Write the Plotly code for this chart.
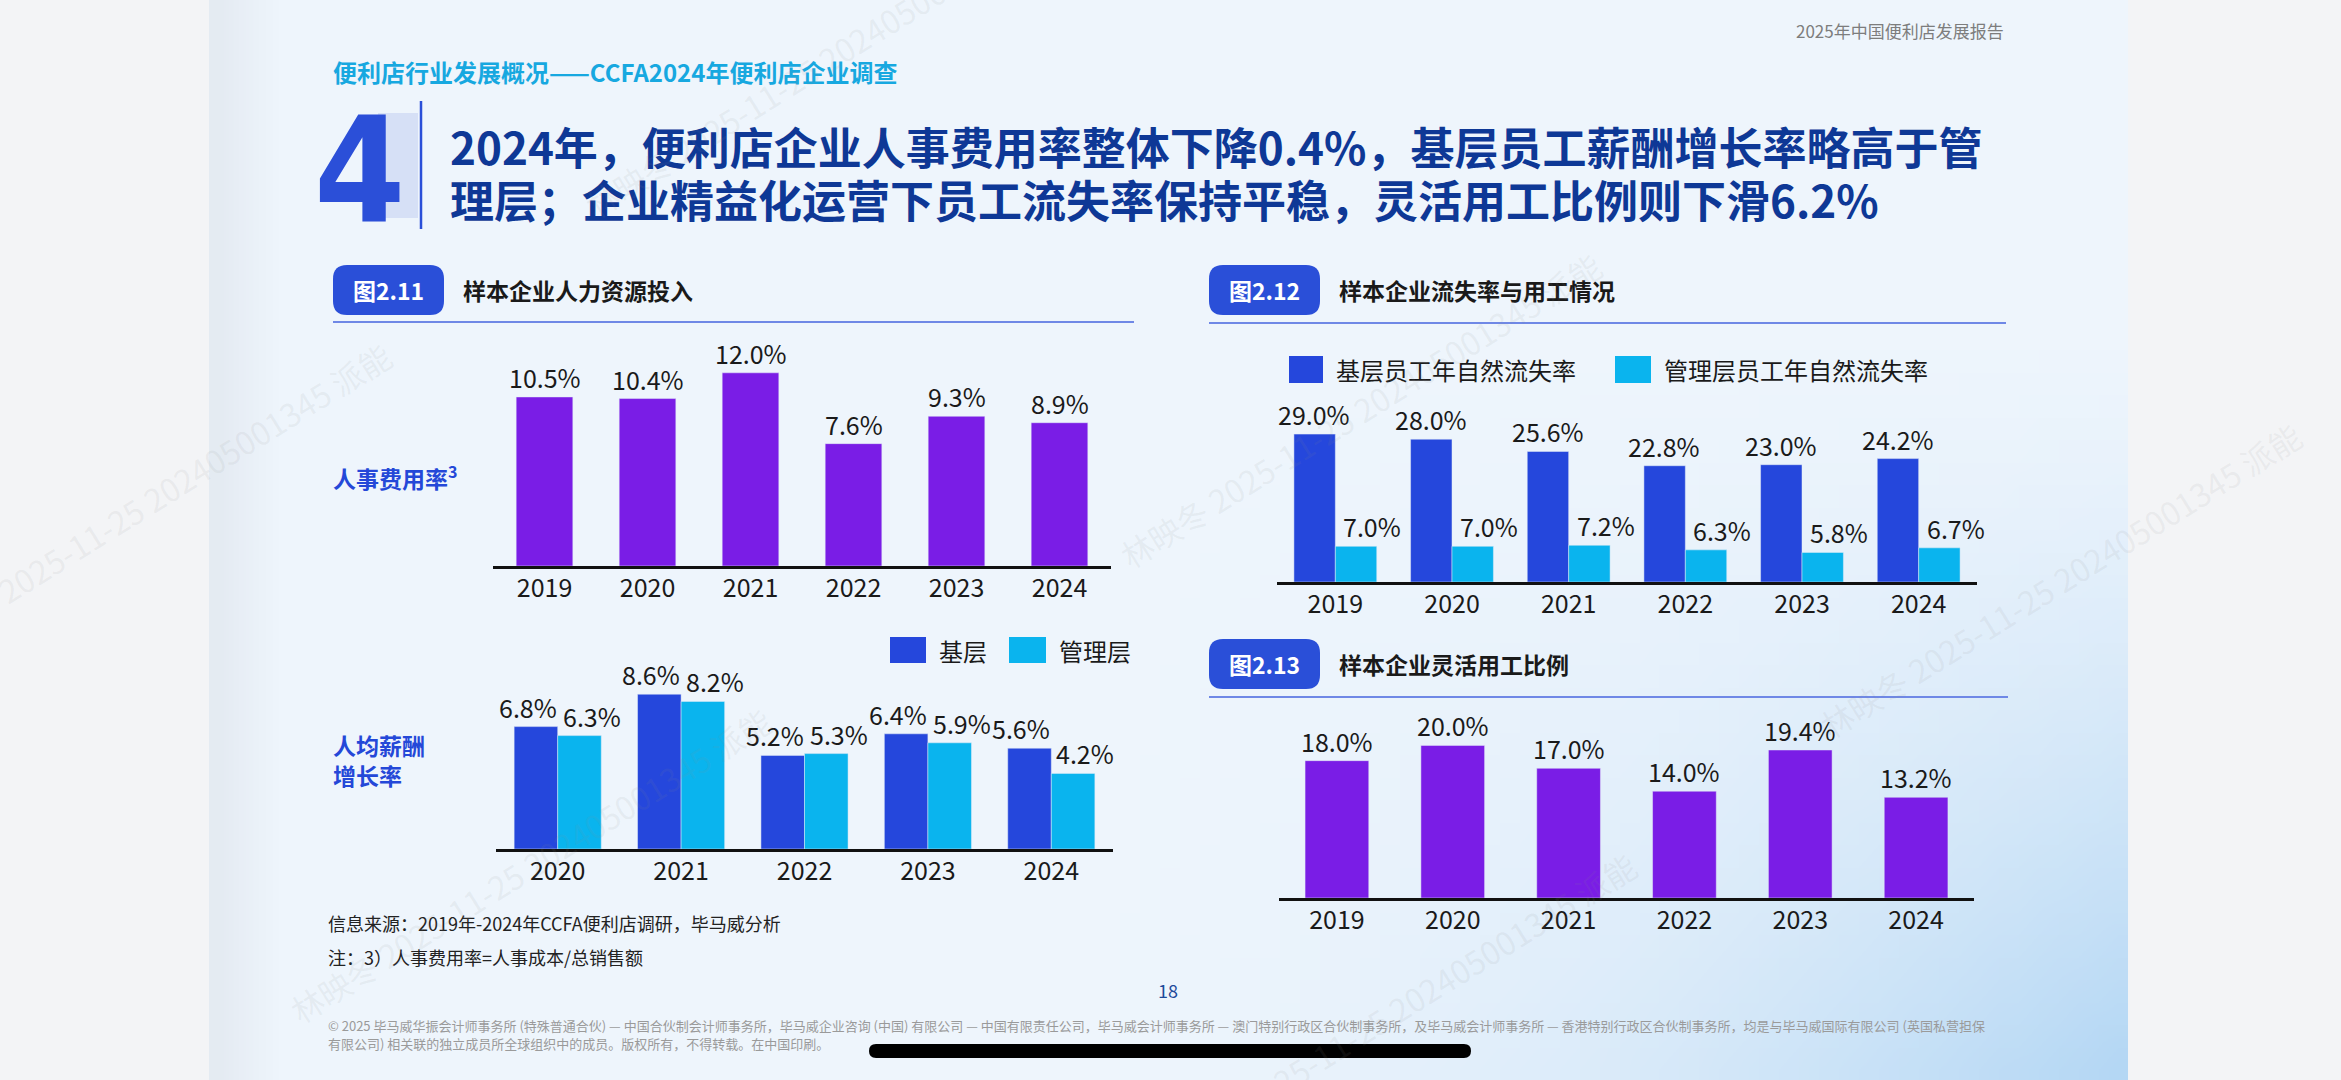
import zlib, struct, base64
import plotly.graph_objects as go

# ---------------- data ----------------
years6 = ["2019", "2020", "2021", "2022", "2023", "2024"]
years5 = ["2020", "2021", "2022", "2023", "2024"]
cost_rate = [10.5, 10.4, 12.0, 7.6, 9.3, 8.9]            # 人事费用率
salary_base = [6.8, 8.6, 5.2, 6.4, 5.6]                  # 基层 人均薪酬增长率
salary_mgmt = [6.3, 8.2, 5.3, 5.9, 4.2]                  # 管理层
turnover_base = [29.0, 28.0, 25.6, 22.8, 23.0, 24.2]     # 基层员工年自然流失率
turnover_mgmt = [7.0, 7.0, 7.2, 6.3, 5.8, 6.7]           # 管理层员工年自然流失率
flex_ratio = [18.0, 20.0, 17.0, 14.0, 19.4, 13.2]        # 灵活用工比例

# ---------------- style ----------------
W, H = 2341, 1080
CJK = "Noto Sans CJK SC"
PURPLE = "#7a1de6"
DARK = "#2547dc"
CYAN = "#0ab4ee"
NAVY = "#0e3896"
PILL = "#2a4fd8"
TXT = "#1a1a1a"


def X(p):
    return p / W


def Y(p):
    return 1 - p / H


def make_png(w, h, func):
    rows = []
    for j in range(h):
        row = bytearray([0])
        for i in range(w):
            row.extend(func(i / (w - 1), j / (h - 1)))
        rows.append(bytes(row))
    raw = b"".join(rows)

    def chunk(t, d):
        c = struct.pack(">I", len(d)) + t + d
        return c + struct.pack(">I", zlib.crc32(t + d) & 0xFFFFFFFF)

    png = (b"\x89PNG\r\n\x1a\n" + chunk(b"IHDR", struct.pack(">IIBBBBB", w, h, 8, 2, 0, 0, 0))
           + chunk(b"IDAT", zlib.compress(raw)) + chunk(b"IEND", b""))
    return "data:image/png;base64," + base64.b64encode(png).decode()


def clamp(v):
    return max(0.0, min(1.0, v))


def grad(u, v):
    base = (238, 245, 252)
    br = (180, 215, 244)
    sh = (226, 232, 240)
    w1 = clamp((u - 0.45) / 0.55) ** 1.6 * clamp((v - 0.3) / 0.7) ** 1.4
    w2 = clamp((0.03 - u) / 0.03) * 0.8
    c = [base[k] * (1 - w1) + br[k] * w1 for k in range(3)]
    c = [c[k] * (1 - w2) + sh[k] * w2 for k in range(3)]
    return [int(round(x)) for x in c]


bg_img = make_png(96, 48, grad)

fig = go.Figure()

# ---- chart A: 人事费用率 ----
fig.add_trace(go.Bar(x=years6, y=cost_rate, marker_color=PURPLE, width=0.55,
                     xaxis="x", yaxis="y", showlegend=False, hoverinfo="skip"))
# ---- chart B: 人均薪酬增长率 ----
fig.add_trace(go.Bar(x=years5, y=salary_base, name="基层", marker_color=DARK, width=0.353, offset=-0.353,
                     xaxis="x2", yaxis="y2", showlegend=False, hoverinfo="skip"))
fig.add_trace(go.Bar(x=years5, y=salary_mgmt, name="管理层", marker_color=CYAN, width=0.353, offset=0,
                     xaxis="x2", yaxis="y2", showlegend=False, hoverinfo="skip"))
# ---- chart C: 流失率 ----
fig.add_trace(go.Bar(x=years6, y=turnover_base, name="基层员工年自然流失率", marker_color=DARK, width=0.355,
                     offset=-0.355, xaxis="x3", yaxis="y3", showlegend=False, hoverinfo="skip"))
fig.add_trace(go.Bar(x=years6, y=turnover_mgmt, name="管理层员工年自然流失率", marker_color=CYAN, width=0.355,
                     offset=0, xaxis="x3", yaxis="y3", showlegend=False, hoverinfo="skip"))
# ---- chart D: 灵活用工比例 ----
fig.add_trace(go.Bar(x=years6, y=flex_ratio, marker_color=PURPLE, width=0.55,
                     xaxis="x4", yaxis="y4", showlegend=False, hoverinfo="skip"))

annotations = []
shapes = []


def ann(x, y, text, size, color=TXT, bold=False, xanchor="left", yanchor="middle", family=CJK, **kw):
    if bold:
        text = "<b>" + text + "</b>"
    d = dict(x=X(x), y=Y(y), xref="paper", yref="paper", text=text, showarrow=False,
             xanchor=xanchor, yanchor=yanchor, font=dict(size=size, color=color, family=family))
    d.update(kw)
    annotations.append(d)


def val_labels(cats, ys, xref, yref, xshift=0):
    # on category axes annotations use the category index
    for i, (cat, yv) in enumerate(zip(cats, ys)):
        annotations.append(dict(x=i, y=yv, xref=xref, yref=yref, text=f"{yv:.1f}%", showarrow=False,
                                xanchor="center", yanchor="bottom", yshift=0, xshift=xshift,
                                font=dict(size=25, color=TXT, family=CJK)))


val_labels(years6, cost_rate, "x", "y")
val_labels(years5, salary_base, "x2", "y2", xshift=-30)
val_labels(years5, salary_mgmt, "x2", "y2", xshift=34)
val_labels(years6, turnover_base, "x3", "y3", xshift=-21)
val_labels(years6, turnover_mgmt, "x3", "y3", xshift=37)
val_labels(years6, flex_ratio, "x4", "y4")


def rrect_path(x0, y0, x1, y1, r):
    pts = [("M", x0 + r, y0), ("L", x1 - r, y0), ("Q", x1, y0, x1, y0 + r), ("L", x1, y1 - r),
           ("Q", x1, y1, x1 - r, y1), ("L", x0 + r, y1), ("Q", x0, y1, x0, y1 - r), ("L", x0, y0 + r),
           ("Q", x0, y0, x0 + r, y0)]
    s = ""
    for p in pts:
        if p[0] == "Q":
            s += f"Q{X(p[1]):.6f},{Y(p[2]):.6f} {X(p[3]):.6f},{Y(p[4]):.6f} "
        else:
            s += f"{p[0]}{X(p[1]):.6f},{Y(p[2]):.6f} "
    return s + "Z"


def rect(x0, y0, x1, y1, color, **kw):
    d = dict(type="rect", xref="paper", yref="paper", x0=X(x0), x1=X(x1), y0=Y(y1), y1=Y(y0),
             fillcolor=color, line=dict(width=0), layer="below")
    d.update(kw)
    shapes.append(d)


def hline(x0, x1, y, color, width):
    shapes.append(dict(type="line", xref="paper", yref="paper", x0=X(x0), x1=X(x1), y0=Y(y), y1=Y(y),
                       line=dict(color=color, width=width), layer="below"))


# ---- header ----
ann(2006, 31, "2025年中国便利店发展报告", 17, color="#7d7d7d", xanchor="right")
ann(331, 72, "便利店行业发展概况——CCFA2024年便利店企业调查", 24, color="#17a8e0", bold=True)

# big "4"
rect(378, 113, 418, 218, "rgba(170,185,235,0.35)")
shapes.append(dict(type="line", xref="paper", yref="paper", x0=X(421), x1=X(421), y0=Y(101), y1=Y(229),
                   line=dict(color=PILL, width=2.5), layer="below"))
ann(359, 170, "4", 146, color="#2b4fd8", bold=True, xanchor="center",
    family="Liberation Sans Narrow, DejaVu Sans Condensed, Liberation Sans, sans-serif")

ann(448, 146, "2024年，便利店企业人事费用率整体下降0.4%，基层员工薪酬增长率略高于管", 44, color=NAVY, bold=True)
ann(448, 199, "理层；企业精益化运营下员工流失率保持平稳，灵活用工比例则下滑6.2%", 44, color=NAVY, bold=True)

# ---- panel headers ----
for (px0, py0, px1, py1, tag, title_x, title, line_x1, line_y) in [
    (333, 265, 444, 315, "图2.11", 461, "样本企业人力资源投入", 1134, 322),
    (1209, 265, 1320, 315, "图2.12", 1337, "样本企业流失率与用工情况", 2006, 323),
    (1209, 639, 1320, 689, "图2.13", 1337, "样本企业灵活用工比例", 2008, 697),
]:
    shapes.append(dict(type="path", xref="paper", yref="paper", path=rrect_path(px0, py0, px1, py1, 14),
                       fillcolor=PILL, line=dict(width=0), layer="below"))
    ann((px0 + px1) / 2, (py0 + py1) / 2, tag, 23, color="white", bold=True, xanchor="center")
    ann(title_x, (py0 + py1) / 2, title, 23, color=TXT, bold=True)
    hline(px0, line_x1, line_y, "#6f88e6", 2)

# ---- side labels ----
ann(331, 477, "人事费用率<sup>3</sup>", 23, color="#2448d8", bold=True)
ann(331, 760, "人均薪酬<br>增长率", 23, color="#2448d8", bold=True, align="left")

# ---- manual legends ----
rect(890, 637, 926, 663, DARK)
ann(937, 650, "基层", 24)
rect(1009, 637, 1046, 663, CYAN)
ann(1057, 650, "管理层", 24)

rect(1289, 356, 1323, 383, DARK)
ann(1334, 370, "基层员工年自然流失率", 24)
rect(1615, 356, 1651, 383, CYAN)
ann(1662, 370, "管理层员工年自然流失率", 24)

# ---- notes & footer ----
ann(326, 923, "信息来源：2019年-2024年CCFA便利店调研，毕马威分析", 18, color="#222222")
ann(326, 957, "注：3）人事费用率=人事成本/总销售额", 18, color="#222222")
ann(1168, 990, "18", 18, color="#1f4a9a", xanchor="center")
ann(326, 1025, "© 2025 毕马威华振会计师事务所 (特殊普通合伙) — 中国合伙制会计师事务所，毕马威企业咨询 (中国) 有限公司 — "
               "中国有限责任公司，毕马威会计师事务所 — 澳门特别行政区合伙制事务所，及毕马威会计师事务所 — "
               "香港特别行政区合伙制事务所，均是与毕马威国际有限公司 (英国私营担保", 13, color="#9a9a9a")
ann(326, 1043, "有限公司) 相关联的独立成员所全球组织中的成员。版权所有，不得转载。在中国印刷。", 13, color="#9a9a9a")

# home indicator bar
shapes.append(dict(type="path", xref="paper", yref="paper", path=rrect_path(869, 1044, 1471, 1058, 7),
                   fillcolor="#000000", line=dict(width=0), layer="above"))

# ---- watermarks ----
wm = "林映冬 2025-11-25 202405001345 派能"
for cx, cy in [(825, 60), (530, 865), (1360, 410), (1395, 1010), (2060, 580), (150, 500)]:
    annotations.append(dict(x=X(cx), y=Y(cy), xref="paper", yref="paper", text=wm, showarrow=False,
                            textangle=-32, xanchor="center", yanchor="middle",
                            font=dict(size=32, color="rgba(140,140,140,0.10)", family=CJK)))


# ---- axes ----
def xaxis(domain, cats, anchor):
    return dict(domain=[X(domain[0]), X(domain[1])], type="category", categoryorder="array", categoryarray=cats,
                range=[-0.5, len(cats) - 0.5], anchor=anchor, automargin=False,
                showline=True, linecolor="#111111", linewidth=2.5, ticks="", showgrid=False, zeroline=False,
                tickfont=dict(size=25, color=TXT, family=CJK), ticklabelstandoff=-2, fixedrange=True)


def yaxis(top, bottom, rng, anchor):
    return dict(domain=[Y(bottom), Y(top)], range=rng, visible=False, showgrid=False, zeroline=False,
                fixedrange=True, anchor=anchor, automargin=False)


fig.update_layout(
    width=W, height=H, margin=dict(l=0, r=0, t=0, b=0, autoexpand=False),
    paper_bgcolor="#f3f4f6", plot_bgcolor="rgba(0,0,0,0)",
    font=dict(family=CJK, color=TXT),
    barmode="overlay", showlegend=False,
    xaxis=xaxis([493, 1111], years6, "y"),
    yaxis=yaxis(566 - 16.1 * 13.5, 566, [0, 13.5], "x"),
    xaxis2=xaxis([496, 1113], years5, "y2"),
    yaxis2=yaxis(849 - 18.0 * 9.5, 849, [0, 9.5], "x2"),
    xaxis3=xaxis([1277, 1977], years6, "y3"),
    yaxis3=yaxis(582 - 5.1 * 30, 582, [0, 30], "x3"),
    xaxis4=xaxis([1279, 1974], years6, "y4"),
    yaxis4=yaxis(898 - 7.63 * 21, 898, [0, 21], "x4"),
    annotations=annotations,
    shapes=shapes,
    images=[dict(source=bg_img, xref="paper", yref="paper", x=X(209), y=1, sizex=X(2128) - X(209), sizey=1,
                 sizing="stretch", xanchor="left", yanchor="top", layer="below")],
)

fig.write_html("out.html")
